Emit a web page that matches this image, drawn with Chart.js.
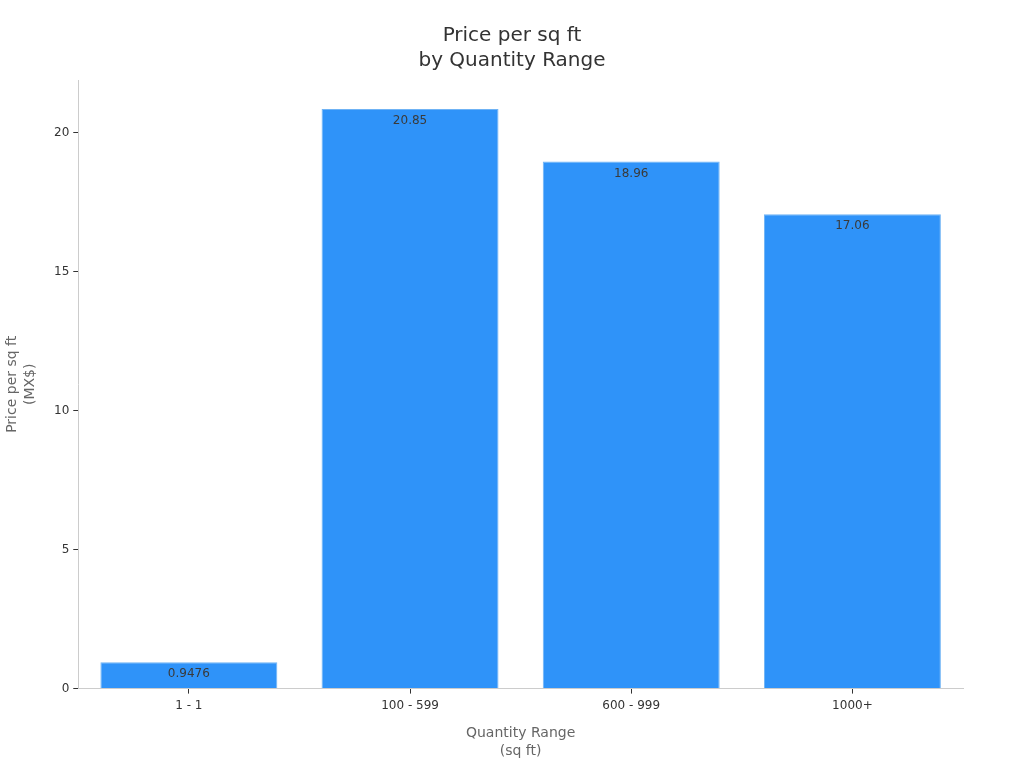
<!DOCTYPE html>
<html>
<head>
<meta charset="utf-8">
<script src="https://cdn.jsdelivr.net/npm/chart.js@4.4.1/dist/chart.umd.min.js"></script>
<style>
  html, body { margin: 0; padding: 0; background: #fff; }
  #wrap { width: 1024px; height: 768px; }
</style>
</head>
<body>
<div id="wrap"><canvas id="priceChart"></canvas></div>
<script>
// Quantity ranges and prices
var ranges = ["1 - 1", "100 - 599", "600 - 999", "1000+"];
var prices = [0.9476, 20.85, 18.96, 17.06];
var yTicks = [0, 5, 10, 15, 20];

Chart.defaults.font.family = "'DejaVu Sans', sans-serif";

// draws the value just below the top of each bar
var barLabels = {
    id: "barLabels",
    afterDatasetsDraw: function (chart) {
        var ctx = chart.ctx;
        var meta = chart.getDatasetMeta(0);
        ctx.save();
        ctx.font = "12px 'DejaVu Sans', sans-serif";
        ctx.fillStyle = "#3a3a3a";
        ctx.textAlign = "center";
        ctx.textBaseline = "top";
        meta.data.forEach(function (bar, i) {
            ctx.fillText(String(prices[i]), bar.x, bar.y + 6);
        });
        ctx.restore();
    }
};

var ctx = document.getElementById("priceChart");

var priceChart = new Chart(ctx, {
    type: "bar",
    data: {
        labels: ranges,
        datasets: [{
            data: prices,
            backgroundColor: "#2f93f9",
            borderColor: "#6fb3f5",
            borderWidth: 1,
            categoryPercentage: 1.0,
            barPercentage: 0.8
        }]
    },
    options: {
        responsive: true,
        maintainAspectRatio: false,
        animation: false,
        layout: { padding: { top: 10, right: 0, bottom: 4, left: 0 } },
        plugins: {
            legend: { display: false },
            tooltip: { enabled: false },
            title: {
                display: true,
                text: ["Price per sq ft", "by Quantity Range"],
                color: "#333",
                font: { size: 20, weight: "normal", lineHeight: 1.25 },
                padding: { top: 13, bottom: 7 }
            }
        },
        scales: {
            x: {
                grid: { display: true, offset: false, drawOnChartArea: false, tickLength: 5, tickColor: "#333" },
                border: { color: "#ccc" },
                ticks: { color: "#333", font: { size: 12 }, padding: 5 },
                title: {
                    display: true,
                    text: ["Quantity Range", "(sq ft)"],
                    color: "#666",
                    font: { size: 14, lineHeight: 1.25 },
                    padding: { top: 7 }
                }
            },
            y: {
                min: 0,
                max: 21.89,
                afterBuildTicks: function (axis) {
                    axis.ticks = yTicks.map(function (v) { return { value: v }; });
                },
                grid: { display: true, drawOnChartArea: false, tickLength: 5, tickColor: "#333" },
                border: { color: "#ccc" },
                ticks: { color: "#333", font: { size: 12 }, padding: 4 },
                title: {
                    display: true,
                    text: ["Price per sq ft", "(MX$)"],
                    color: "#666",
                    font: { size: 14, lineHeight: 1.25 },
                    padding: { bottom: 11 }
                }
            },
            // empty right-hand axis, only keeps space after the plot
            spacer: {
                position: "right",
                display: true,
                grid: { display: false },
                border: { display: false },
                ticks: { display: false },
                afterFit: function (axis) { axis.width = 61; }
            }
        }
    },
    plugins: [barLabels]
});
</script>
</body>
</html>
